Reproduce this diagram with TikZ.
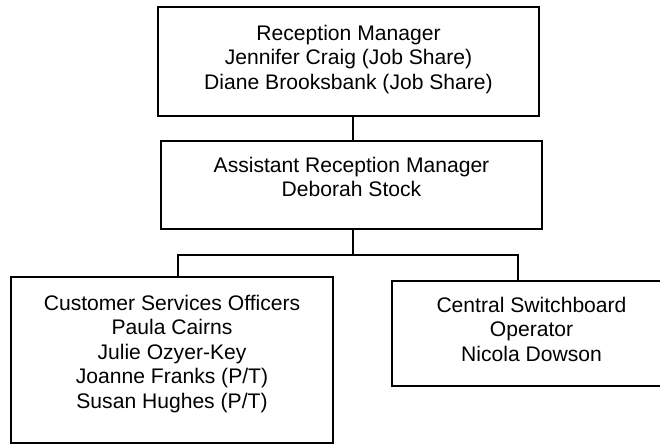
\documentclass[tikz,border=0pt]{standalone}
\usepackage{fontspec}
\setmainfont{Liberation Sans}
\usetikzlibrary{positioning}

\begin{document}
\begin{tikzpicture}[x=1pt, y=-1pt, line width=1.8pt,
    font=\fontsize{21.1}{24.5}\selectfont,
    post/.style={draw, inner sep=0pt},
    names/.style={align=center, inner sep=0pt}]
    \useasboundingbox (0,0) rectangle (660,445);
    \node[post, minimum width=381pt, minimum height=109pt] (rm) at (348.5,61.5) {};
    \node[post, minimum width=381pt, minimum height=88pt] (arm) at (351.5,185) {};
    \node[post, minimum width=322pt, minimum height=166pt] (cso) at (172,360) {};
    \node[post, minimum width=279pt, minimum height=105pt] (cbo) at (531.5,333.5) {};
    \node[names, below=18pt of rm.north] (rmtext)
      {Reception Manager\\Jennifer Craig (Job Share)\\Diane Brooksbank (Job Share)};
    \node[names, below=16pt of arm.north] (armtext)
      {Assistant Reception Manager\\Deborah Stock};
    \node[names, below=18pt of cso.north] (csotext)
      {Customer Services Officers\\Paula Cairns\\Julie Ozyer-Key\\Joanne Franks (P/T)\\Susan Hughes (P/T)};
    \node[names, below=16pt of cbo.north] (cbotext)
      {Central Switchboard\\Operator\\Nicola Dowson};
    \coordinate (split) at (353,255);
    \draw (rm.south -| split) -- (arm.north -| split);
    \draw (arm.south -| split) -- (split);
    \draw ([xshift=6pt]cso.north) |- (split) -| ([xshift=-13.5pt]cbo.north);
  \end{tikzpicture}
\end{document}
